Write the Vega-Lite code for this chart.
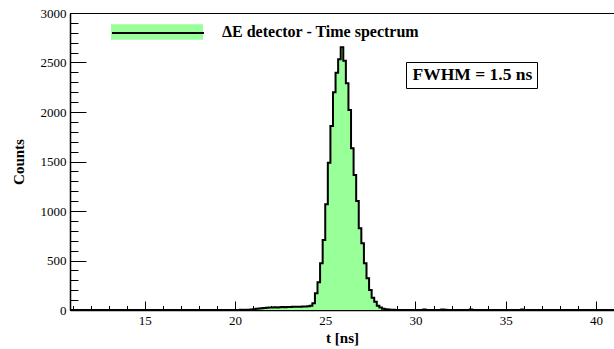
{
  "$schema": "https://vega.github.io/schema/vega-lite/v6.json",
  "width": 544,
  "height": 297,
  "autosize": {"type": "none"},
  "padding": {"left": 70, "top": 13, "right": 0, "bottom": 39},
  "background": "white",
  "config": {"view": {"stroke": "black", "strokeWidth": 1}, "font": "Liberation Serif"},
  "data": {"values": [
    {"t": 10.857, "counts": 0},
    {"t": 20.0, "counts": 1}, {"t": 20.143, "counts": 0}, {"t": 20.286, "counts": 2}, {"t": 20.429, "counts": 1},
    {"t": 20.571, "counts": 2}, {"t": 20.714, "counts": 3}, {"t": 20.857, "counts": 5}, {"t": 21.0, "counts": 8},
    {"t": 21.143, "counts": 12}, {"t": 21.286, "counts": 15}, {"t": 21.429, "counts": 18}, {"t": 21.571, "counts": 20},
    {"t": 21.714, "counts": 22}, {"t": 21.857, "counts": 25}, {"t": 22.0, "counts": 24}, {"t": 22.143, "counts": 27},
    {"t": 22.286, "counts": 26}, {"t": 22.429, "counts": 28}, {"t": 22.571, "counts": 30}, {"t": 22.714, "counts": 29},
    {"t": 22.857, "counts": 31}, {"t": 23.0, "counts": 30}, {"t": 23.143, "counts": 33}, {"t": 23.286, "counts": 32},
    {"t": 23.429, "counts": 34}, {"t": 23.571, "counts": 33}, {"t": 23.714, "counts": 36}, {"t": 23.857, "counts": 35},
    {"t": 24.0, "counts": 38}, {"t": 24.143, "counts": 44}, {"t": 24.286, "counts": 67}, {"t": 24.429, "counts": 168},
    {"t": 24.571, "counts": 280}, {"t": 24.714, "counts": 471}, {"t": 24.857, "counts": 707}, {"t": 25.0, "counts": 1067},
    {"t": 25.143, "counts": 1488}, {"t": 25.286, "counts": 1859}, {"t": 25.429, "counts": 2199}, {"t": 25.571, "counts": 2397},
    {"t": 25.714, "counts": 2532}, {"t": 25.857, "counts": 2653}, {"t": 26.0, "counts": 2518}, {"t": 26.143, "counts": 2290},
    {"t": 26.286, "counts": 2020}, {"t": 26.429, "counts": 1633}, {"t": 26.571, "counts": 1364}, {"t": 26.714, "counts": 1101},
    {"t": 26.857, "counts": 825}, {"t": 27.0, "counts": 673}, {"t": 27.143, "counts": 471}, {"t": 27.286, "counts": 320},
    {"t": 27.429, "counts": 202}, {"t": 27.571, "counts": 125}, {"t": 27.714, "counts": 84}, {"t": 27.857, "counts": 44},
    {"t": 28.0, "counts": 24}, {"t": 28.143, "counts": 12}, {"t": 28.286, "counts": 8}, {"t": 28.429, "counts": 5},
    {"t": 28.571, "counts": 3}, {"t": 28.714, "counts": 2}, {"t": 28.857, "counts": 1}, {"t": 29.0, "counts": 0},
    {"t": 29.143, "counts": 1}, {"t": 29.286, "counts": 0},
    {"t": 30.429, "counts": 4}, {"t": 30.571, "counts": 0},
    {"t": 31.429, "counts": 5}, {"t": 31.571, "counts": 3}, {"t": 31.714, "counts": 0},
    {"t": 33.0, "counts": 4}, {"t": 33.143, "counts": 0},
    {"t": 35.857, "counts": 5}, {"t": 36.0, "counts": 0},
    {"t": 41.0, "counts": 0}
  ]},
  "resolve": {"axis": {"x": "independent", "y": "independent"}},
  "layer": [
    {
      "mark": {"type": "area", "interpolate": "step-after", "clip": true},
      "encoding": {
        "x": {
          "field": "t", "type": "quantitative",
          "scale": {"domain": [10.857, 41], "nice": false, "zero": false},
          "axis": {
            "orient": "bottom",
            "values": [15, 20, 25, 30, 35, 40],
            "format": "d",
            "tickSize": -9,
            "tickColor": "black", "tickWidth": 1,
            "domainColor": "black", "domainWidth": 1.5,
            "labelFont": "Liberation Serif", "labelFontSize": 13, "labelColor": "black", "labelPadding": 13,
            "labelFlush": false, "labelOverlap": false,
            "grid": false,
            "title": "t [ns]", "titleFont": "Liberation Serif", "titleFontSize": 15, "titleFontWeight": "bold",
            "titleColor": "black", "titlePadding": 3
          }
        },
        "y": {
          "field": "counts", "type": "quantitative",
          "scale": {"domain": [0, 3000], "nice": false},
          "axis": {
            "orient": "left",
            "values": [0, 500, 1000, 1500, 2000, 2500, 3000],
            "format": "d",
            "tickSize": -16,
            "tickColor": "black", "tickWidth": 1,
            "domainColor": "black", "domainWidth": 1.5,
            "labelFont": "Liberation Serif", "labelFontSize": 13, "labelColor": "black", "labelPadding": 20,
            "labelFlush": false, "labelOverlap": false,
            "grid": false,
            "title": "Counts", "titleFont": "Liberation Serif", "titleFontSize": 15, "titleFontWeight": "bold",
            "titleColor": "black", "titlePadding": 14
          }
        },
        "fill": {
          "datum": "ΔE detector - Time spectrum",
          "scale": {"range": ["#99ff99"]},
          "legend": {
            "orient": "none", "legendX": 41, "legendY": -27, "title": null, "padding": 0,
            "symbolType": "M-1,-0.17H1V0.17H-1Z", "symbolSize": 8464, "symbolStrokeWidth": 0, "symbolOpacity": 1,
            "labelFont": "Liberation Serif", "labelFontWeight": "bold", "labelFontSize": 16, "labelColor": "black",
            "labelOffset": 19, "labelLimit": 400
          }
        },
        "fillOpacity": {
          "datum": "shadow", "type": "ordinal",
          "scale": {"range": [1]},
          "legend": {
            "orient": "none", "legendX": 338, "legendY": 51, "title": null, "padding": 4,
            "symbolSize": 0, "symbolOpacity": 0, "symbolStrokeWidth": 0,
            "labelExpr": "'FWHM = 1.5 ns'",
            "labelFont": "Liberation Serif", "labelFontWeight": "bold", "labelFontSize": 17.5, "labelColor": "black",
            "labelOffset": -15, "strokeColor": "black", "fillColor": "black"
          }
        }
      }
    },
    {
      "mark": {"type": "line", "interpolate": "step-after", "clip": true, "strokeWidth": 2},
      "encoding": {
        "x": {
          "field": "t", "type": "quantitative",
          "axis": {
            "orient": "bottom",
            "values": [11,12,13,14,16,17,18,19,21,22,23,24,26,27,28,29,31,32,33,34,36,37,38,39,41],
            "tickSize": -4.5, "tickColor": "black", "tickWidth": 1,
            "labels": false, "domain": false, "grid": false, "title": null
          }
        },
        "y": {
          "field": "counts", "type": "quantitative",
          "axis": {
            "orient": "left",
            "values": [100,200,300,400,600,700,800,900,1100,1200,1300,1400,1600,1700,1800,1900,2100,2200,2300,2400,2600,2700,2800,2900],
            "tickSize": -8, "tickColor": "black", "tickWidth": 1,
            "labels": false, "domain": false, "grid": false, "title": null
          }
        },
        "stroke": {
          "datum": "hist",
          "scale": {"range": ["black"]},
          "legend": {
            "orient": "none", "legendX": 41, "legendY": -27, "title": null, "padding": 0,
            "symbolType": "stroke", "symbolSize": 8464, "symbolStrokeWidth": 2,
            "labelExpr": "''", "labelOffset": 19
          }
        },
        "opacity": {
          "datum": "FWHM = 1.5 ns", "type": "ordinal",
          "scale": {"range": [1]},
          "legend": {
            "orient": "none", "legendX": 336, "legendY": 49, "title": null, "padding": 4,
            "symbolSize": 0, "symbolOpacity": 0, "symbolStrokeWidth": 0,
            "labelFont": "Liberation Serif", "labelFontWeight": "bold", "labelFontSize": 17.5, "labelColor": "black",
            "labelOffset": -15, "strokeColor": "black", "fillColor": "white"
          }
        }
      }
    }
  ]
}
